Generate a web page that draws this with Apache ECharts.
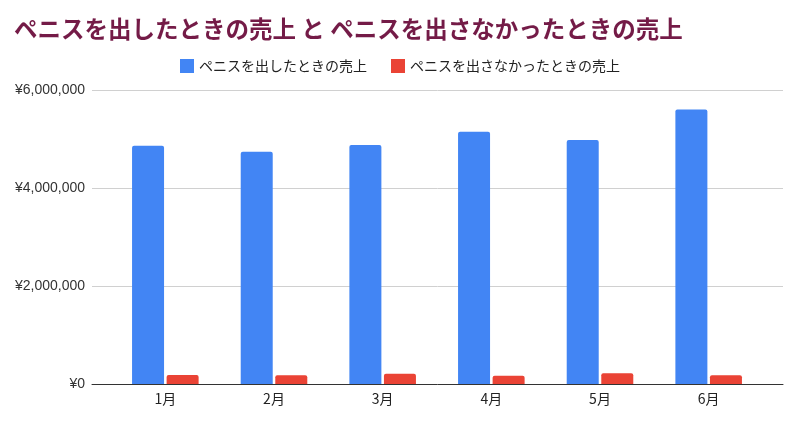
<!DOCTYPE html>
<html>
<head>
<meta charset="utf-8">
<script src="https://cdn.jsdelivr.net/npm/echarts@6/dist/echarts.min.js"></script>
<style>html,body{margin:0;padding:0;background:#fff}#main{width:800px;height:426px}</style>
</head>
<body>
<div id="main"></div>
<script>
const categories = ['1月', '2月', '3月', '4月', '5月', '6月'];
const seriesNames = ['ペニスを出したときの売上', 'ペニスを出さなかったときの売上'];
const withValues = [4860000, 4740000, 4880000, 5150000, 4980000, 5600000];
const withoutValues = [184000, 180000, 210000, 170000, 220000, 180000];
const yTicks = [0, 2000000, 4000000, 6000000];

const font = 'Liberation Sans, Arial, sans-serif';
const jpFont = '"Noto Sans CJK JP", "Liberation Sans", sans-serif';
const chart = echarts.init(document.getElementById('main'), null, {renderer: 'canvas'});
const yMax = yTicks[yTicks.length - 1];
const yInterval = yTicks[1] - yTicks[0];
chart.setOption({
  animation: false,
  backgroundColor: '#fff',
  title: {
    text: 'ペニスを出したときの売上 と ペニスを出さなかったときの売上',
    left: 9, top: 12,
    textStyle: {fontFamily: jpFont, fontSize: 23.5, fontWeight: 'bold', color: '#741b47'}
  },
  legend: {
    data: seriesNames,
    top: 54, left: 'center',
    icon: 'rect', itemWidth: 14, itemHeight: 14, itemGap: 24,
    textStyle: {fontFamily: jpFont, fontSize: 14, color: '#222'}
  },
  grid: [
    {left: 92, right: 17, top: 90, bottom: 42},
    {left: 111, right: 37, top: 90, bottom: 42}
  ],
  xAxis: [
    {type: 'category', gridIndex: 0, data: categories,
     axisLine: {show: true, lineStyle: {color: '#333', width: 1}},
     axisTick: {show: false}, axisLabel: {show: false}, splitLine: {show: false}},
    {type: 'category', gridIndex: 1, data: categories,
     axisLine: {show: false}, axisTick: {show: false},
     axisLabel: {fontFamily: jpFont, fontSize: 14, color: '#222', margin: 8}}
  ],
  yAxis: [
    {type: 'value', gridIndex: 0, min: 0, max: yMax, interval: yInterval,
     axisLine: {show: false}, axisTick: {show: false},
     axisLabel: {fontFamily: font, fontSize: 14, color: '#333', margin: 7,
       formatter: v => '¥' + v.toLocaleString('en-US')},
     splitLine: {lineStyle: {color: '#d0d0d0', width: 1}}},
    {type: 'value', gridIndex: 1, min: 0, max: yMax, interval: yInterval,
     show: false, splitLine: {show: false}}
  ],
  series: [
    {name: seriesNames[0], type: 'bar', xAxisIndex: 1, yAxisIndex: 1, data: withValues,
     barWidth: 32, barGap: '8%',
     itemStyle: {color: '#4285f4', borderRadius: [2, 2, 0, 0]}},
    {name: seriesNames[1], type: 'bar', xAxisIndex: 1, yAxisIndex: 1, data: withoutValues,
     barWidth: 32, barGap: '8%',
     itemStyle: {color: '#ea4335', borderRadius: [2, 2, 0, 0]}}
  ]
});
</script>
</body>
</html>
